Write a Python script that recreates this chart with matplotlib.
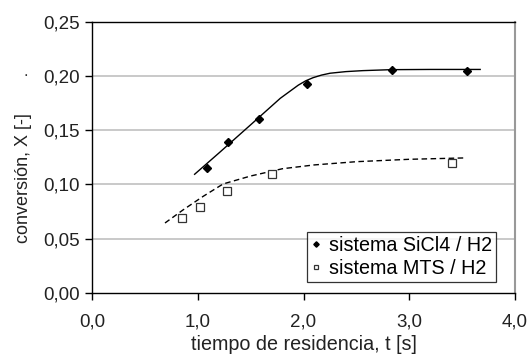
import matplotlib.pyplot as plt

plt.rcParams['font.family'] = ['Liberation Sans', 'DejaVu Sans']

# measured points
t_sicl4 = [1.09, 1.29, 1.58, 2.03, 2.84, 3.55]
x_sicl4 = [0.1155, 0.1394, 0.1607, 0.1926, 0.2058, 0.2049]
t_mts = [0.85, 1.02, 1.28, 1.70, 3.40]
x_mts = [0.0691, 0.0796, 0.0943, 0.1100, 0.1200]

# trend lines
t_fit1 = [0.97, 1.2, 1.5, 1.78, 1.95, 2.02, 2.09, 2.17, 2.25, 2.4, 2.56, 2.83, 3.2, 3.67]
x_fit1 = [0.1094, 0.129, 0.155, 0.1794, 0.1915, 0.1955, 0.1984, 0.2008, 0.2025, 0.2040, 0.2049, 0.2058, 0.2060, 0.2060]
t_fit2 = [0.69, 0.86, 1.05, 1.24, 1.5, 1.8, 2.1, 2.5, 3.0, 3.54]
x_fit2 = [0.0645, 0.0765, 0.089, 0.1005, 0.1078, 0.1145, 0.1180, 0.1210, 0.1232, 0.1245]

xticks = [0, 1, 2, 3, 4]
yticks = [0, 0.05, 0.10, 0.15, 0.20, 0.25]

fig = plt.figure(figsize=(5.31, 3.58), dpi=100)
ax = fig.add_axes([0.1733, 0.1816, 0.7967, 0.7578])

for y in yticks[1:-1]:
    ax.axhline(y, color='#c0c0c0', lw=1.2, zorder=0)

ax.plot(t_fit1, x_fit1, '-', color='black', lw=1.0)
ax.plot(t_fit2, x_fit2, '--', color='black', lw=1.0, dashes=(4, 2.5))
ax.plot(t_sicl4, x_sicl4, 'D', color='black', ms=4.2, ls='none', label='sistema SiCl4 / H2')
ax.plot(t_mts, x_mts, 's', mfc='white', mec='#333333', mew=0.9, ms=5.5, ls='none',
        label='sistema MTS / H2')

ax.set_xlim(0, 4)
ax.set_ylim(0, 0.25)
ax.set_xticks(xticks)
ax.set_yticks(yticks)
ax.set_xticklabels([f'{v:.1f}'.replace('.', ',') for v in xticks])
ax.set_yticklabels([f'{v:.2f}'.replace('.', ',') for v in yticks])
ax.tick_params(direction='out', length=5, width=1, labelsize=13.5, color='black',
               labelcolor='#222222')
ax.tick_params(axis='x', pad=10)

for s in ['left', 'bottom', 'top']:
    ax.spines[s].set_color('black')
    ax.spines[s].set_linewidth(1.0)
ax.spines['right'].set_color('#999999')
ax.spines['right'].set_linewidth(1.5)

ax.set_xlabel('tiempo de residencia, t [s]', fontsize=14.2, color='#222222', labelpad=3)
ax.set_ylabel('conversión, X [-]', fontsize=13, color='#222222')
ax.yaxis.set_label_coords(-0.142, 0.424)
fig.text(26 / 531, 1 - 72 / 358, '.', fontsize=12, color='#333333', ha='center', va='center')

leg = ax.legend(loc='lower right', bbox_to_anchor=(0.955, 0.04), fontsize=14.2,
                frameon=True, fancybox=False, handlelength=0.5, handletextpad=0.4,
                borderpad=0.2, labelspacing=0.2, markerscale=0.65, borderaxespad=0)
leg.get_frame().set_edgecolor('black')
leg.get_frame().set_linewidth(0.9)

fig.savefig('out.png', dpi=100)
